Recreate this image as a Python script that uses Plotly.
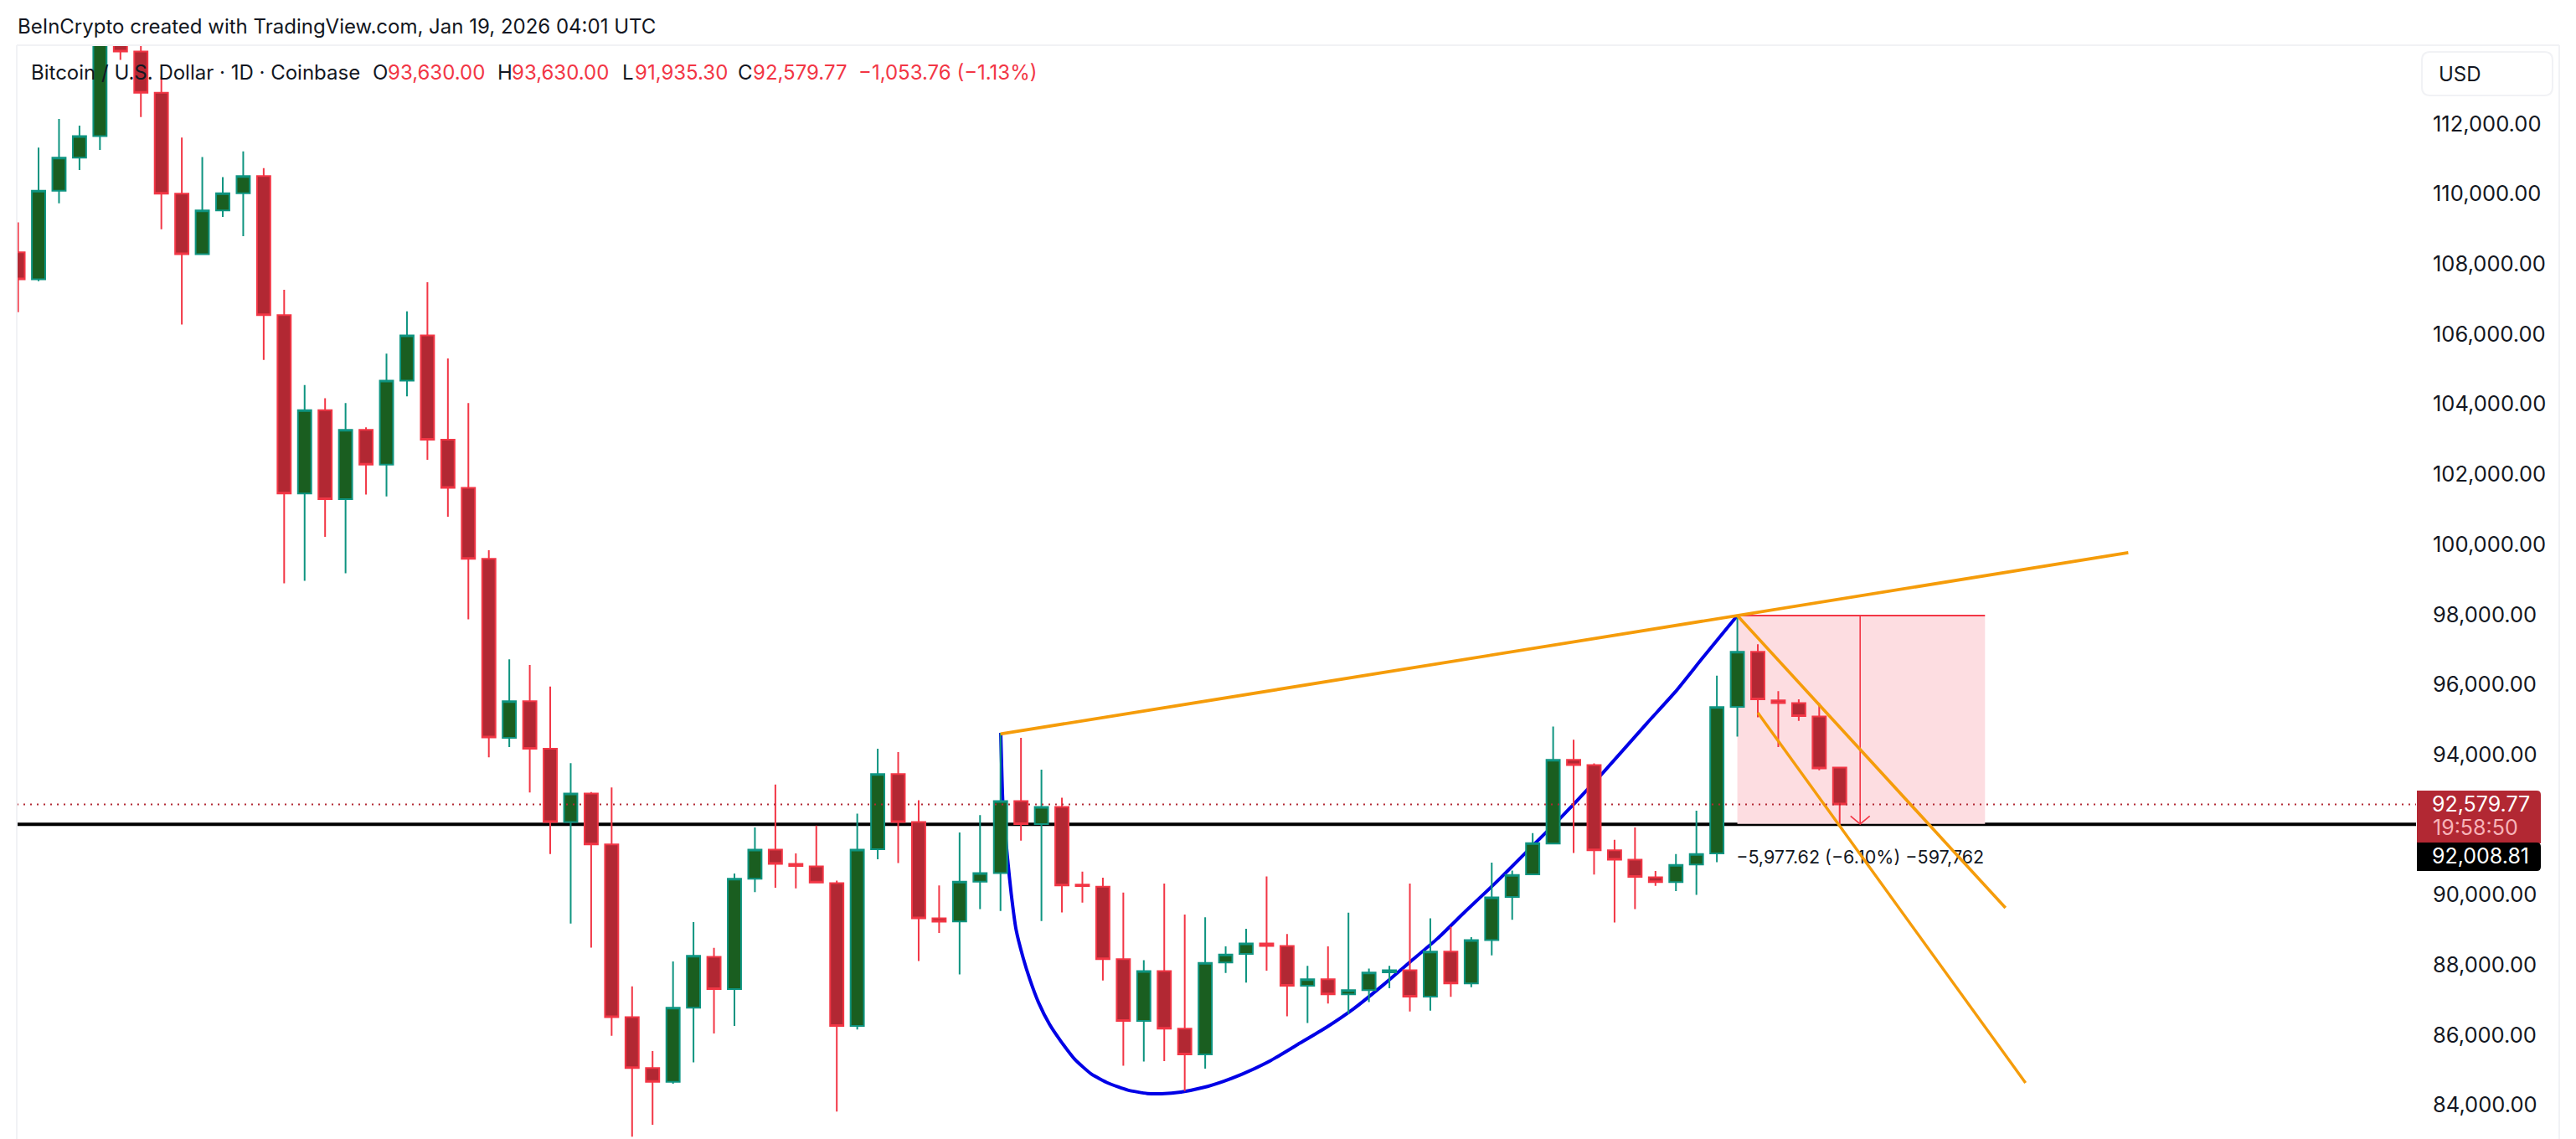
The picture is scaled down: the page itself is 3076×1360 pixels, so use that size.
import plotly.graph_objects as go

W, H = 3076, 1360
PLOT_L, PLOT_R, PLOT_T = 20, 2885, 54

# daily candles
opens = [108330, 107562, 110090, 111029, 111647, 114500, 114058, 112885, 110004, 108277,
         109524, 110015, 110506, 106538, 101450, 103828, 101290, 103263, 102271, 104671,
         105962, 102986, 101609, 99583, 94479, 95524, 94169, 92079, 92889, 91439,
         86511, 85060, 84665, 86777, 88228, 87311, 90457, 91289, 90884, 90809,
         90329, 86255, 91300, 93444, 92079, 89327, 89241, 90372, 90617, 92676,
         92015, 92506, 90290, 90233, 88164, 86404, 87822, 86180, 85444, 88068,
         88313, 88612, 88537, 87407, 87588, 87161, 87279, 87790, 87844, 87097,
         88377, 87471, 88708, 89935, 90585, 91460, 93849, 93700, 91268, 90999,
         90500, 90361, 90863, 91183, 95364, 96932, 95545, 95471, 95087, 93630]
highs = [109183, 111317, 112138, 111946, 115300, 114600, 114700, 113343, 111604, 111050,
         110474, 111210, 110730, 107263, 104543, 104170, 104031, 103337, 105439, 106644,
         107476, 105300, 104031, 99828, 96719, 96559, 95940, 93753, 92932, 93060,
         87385, 85540, 88100, 89220, 88484, 90607, 91919, 93145, 91183, 91972,
         90404, 92313, 94170, 94074, 92697, 90265, 91780, 92271, 94622, 94479,
         93572, 92772, 90660, 90489, 90063, 88132, 90319, 89433, 89359, 88527,
         89028, 90521, 88879, 87972, 88527, 89487, 87897, 87972, 90319, 89327,
         89092, 88793, 90916, 90692, 91759, 94799, 94425, 93750, 91567, 91919,
         90681, 91161, 92399, 96250, 97967, 97146, 95812, 95578, 95471, 93630]
lows = [106623, 107508, 109727, 110676, 111253, 113823, 112191, 108991, 106271, 108255,
        109343, 108788, 105258, 98884, 98959, 100212, 99172, 101418, 101364, 104223,
        102410, 100788, 97860, 93924, 94212, 92921, 91161, 89177, 88495, 85977,
        83100, 83438, 84612, 85220, 86041, 86255, 90073, 90201, 90180, 90351,
        83812, 86159, 91012, 90905, 88111, 88911, 87727, 89593, 89540, 91546,
        89252, 89497, 89775, 87556, 85124, 85241, 85252, 84399, 85038, 87769,
        87492, 87833, 86532, 86340, 86895, 86596, 86937, 87332, 86671, 86692,
        87087, 87364, 88271, 89284, 90585, 91460, 91193, 90575, 89209, 89593,
        90255, 90105, 89998, 90927, 94511, 95066, 94212, 94959, 93551, 91935.30]
closes = [107562, 110090, 111029, 111647, 114900, 114058, 112885, 110004, 108277, 109524,
          110015, 110506, 106538, 101450, 103828, 101290, 103263, 102271, 104671, 105962,
          102986, 101609, 99583, 94489, 95524, 94169, 92079, 92889, 91439, 86511,
          85060, 84665, 86777, 88260, 87311, 90457, 91289, 90884, 90820, 90351,
          86255, 91289, 93444, 92079, 89327, 89231, 90372, 90617, 92676, 92015,
          92506, 90265, 90250, 88164, 86404, 87822, 86180, 85444, 88057, 88292,
          88612, 88537, 87407, 87588, 87161, 87279, 87780, 87844, 87097, 88377,
          87471, 88708, 89924, 90564, 91471, 93849, 93700, 91268, 90999, 90511,
          90361, 90852, 91161, 95354, 96932, 95578, 95471, 95098, 93604, 92579.77]
days = list(range(len(opens)))

# drawings
cup_x = [48.01, 48.05, 48.11, 48.35, 48.52, 48.76, 49.10, 49.44, 49.85, 50.40, 50.95,
         51.63, 52.45, 53.26, 54.22, 55.17, 55.86, 56.81, 57.90, 58.90, 59.80, 61.17, 62.53,
         63.90, 65.26, 66.62, 67.99, 69.35, 70.71, 72.08, 72.77, 74.13, 75.36, 76.04,
         77.41, 79.59, 80.95, 82.32, 84]
cup_y = [94622, 93785, 92670, 91000, 90042, 89006, 88210, 87573, 86935, 86298, 85820,
         85303, 84880, 84626, 84427, 84331, 84323, 84370, 84500, 84680, 84880, 85260, 85733,
         86211, 86752, 87390, 88075, 88752, 89524, 90281, 90679, 91475, 92192, 92606,
         93466, 94900, 95776, 96772, 97967]
rim_x, rim_y = [48, 103.1], [94586, 99760]
flag_top_x, flag_top_y = [84, 97.1], [97967, 89625]
flag_low_x, flag_low_y = [85, 98.08], [95194, 84633]
measure_x, measure_top, measure_bottom = [84, 96.1], 97967, 92020
arrow_x = 90
wing_x = [89.53, 90, 90.47]
wing_y = [92249, 92020, 92249]
measure_text = "−5,977.62 (−6.10%) −597,762"
measure_label = (90, 91012)

level = 92008.81
last_close = 92579.77
countdown = "19:58:50"
price_ticks = list(range(84000, 114000, 2000))

RED = "#f23645"
DARK_RED = "#b22833"
TEAL = "#0e9480"
DARK_GREEN = "#1a5e20"
ORANGE = "#f59c0a"
BLUE = "#0000e6"
INK = "#131722"
EDGE = "#f1f2f5"
FONT = "Inter"

plot_w = PLOT_R - PLOT_L
plot_h = H - PLOT_T


def px(x):
    return (x - PLOT_L) / plot_w


def py(y):
    return (H - y) / plot_h


def rounded(x0, x1, y0, y1, rl, rr, rb=None):
    # path in paper coordinates, corners given in pixels
    rb = rr if rb is None else rb
    pts = [f"M {px(x0 + rl)} {py(y0)}", f"L {px(x1 - rr)} {py(y0)}", f"Q {px(x1)} {py(y0)} {px(x1)} {py(y0 + rr)}",
           f"L {px(x1)} {py(y1 - rb)}", f"Q {px(x1)} {py(y1)} {px(x1 - rb)} {py(y1)}", f"L {px(x0 + rl)} {py(y1)}",
           f"Q {px(x0)} {py(y1)} {px(x0)} {py(y1 - rl)}", f"L {px(x0)} {py(y0 + rl)}", f"Q {px(x0)} {py(y0)} {px(x0 + rl)} {py(y0)}", "Z"]
    return " ".join(pts)


fig = go.Figure()

fig.add_trace(go.Scatter(x=cup_x, y=cup_y, mode="lines", line=dict(color=BLUE, width=4, shape="spline", smoothing=0.5),
                         hoverinfo="skip", zorder=0))

fig.add_trace(go.Candlestick(
    x=days, open=opens, high=highs, low=lows, close=closes,
    whiskerwidth=0,
    increasing=dict(line=dict(color=TEAL, width=2), fillcolor=DARK_GREEN),
    decreasing=dict(line=dict(color=RED, width=2), fillcolor=DARK_RED),
    zorder=1,
))

# measure arrow
fig.add_trace(go.Scatter(x=[arrow_x, arrow_x], y=[measure_top, measure_bottom], mode="lines",
                         line=dict(color=RED, width=1.6), hoverinfo="skip", zorder=2))
fig.add_trace(go.Scatter(x=wing_x, y=wing_y, mode="lines", line=dict(color=RED, width=1.6), hoverinfo="skip", zorder=2))
fig.add_trace(go.Scatter(x=measure_x, y=[measure_top, measure_top], mode="lines",
                         line=dict(color=RED, width=2), hoverinfo="skip", zorder=2))
fig.add_trace(go.Scatter(x=[measure_label[0]], y=[measure_label[1]], mode="text", text=[measure_text],
                         textfont=dict(family=FONT, size=21.5, color=INK), textposition="middle center",
                         hoverinfo="skip", zorder=2))

for xs, ys, w in [(rim_x, rim_y, 3.8), (flag_top_x, flag_top_y, 3.6), (flag_low_x, flag_low_y, 3.4)]:
    fig.add_trace(go.Scatter(x=xs, y=ys, mode="lines", line=dict(color=ORANGE, width=w), hoverinfo="skip", zorder=3))

shapes = [
    dict(type="rect", layer="below", x0=measure_x[0], x1=measure_x[1], y0=measure_bottom, y1=measure_top,
         fillcolor="#fddde1", line=dict(width=0)),
    dict(type="line", layer="below", xref="paper", x0=0, x1=1, y0=level, y1=level, line=dict(color="#000000", width=4)),
    dict(type="line", layer="above", xref="paper", x0=0, x1=1, y0=last_close, y1=last_close,
         line=dict(color=DARK_RED, width=2, dash="2px,6px")),
    # frame
    dict(type="line", xref="paper", yref="paper", x0=px(PLOT_L), x1=px(3056), y0=1, y1=1, line=dict(color=EDGE, width=2)),
    dict(type="line", xref="paper", yref="paper", x0=px(PLOT_L), x1=px(PLOT_L), y0=0, y1=1, line=dict(color=EDGE, width=2)),
    dict(type="line", xref="paper", yref="paper", x0=px(3056), x1=px(3056), y0=0, y1=1, line=dict(color=EDGE, width=2)),
    # USD button
    dict(type="path", xref="paper", yref="paper", path=rounded(2892, 3048, 62, 114, 10, 10),
         line=dict(color=EDGE, width=2), fillcolor="#ffffff"),
    # price tags
    dict(type="path", xref="paper", yref="paper", path=rounded(2886, 3034, 944, 1007, 0, 5, 0),
         fillcolor=DARK_RED, line=dict(width=0)),
    dict(type="path", xref="paper", yref="paper", path=rounded(2886, 3034, 1006, 1040, 0, 5),
         fillcolor="#000000", line=dict(width=0)),
]


def label(x, y, text, color=INK, size=24):
    return dict(xref="paper", yref="paper", x=px(x), y=py(y), text=text, showarrow=False, xanchor="left", yanchor="middle",
                xshift=-1, font=dict(family=FONT, size=size, color=color))


annotations = [
    label(20, 31, "BeInCrypto created with TradingView.com, Jan 19, 2026 04:01 UTC"),
    label(36, 86, "Bitcoin / U.S. Dollar · 1D · Coinbase"),
    label(444, 86, "O"), label(462, 86, "93,630.00", RED),
    label(593, 86, "H"), label(610, 86, "93,630.00", RED),
    label(742, 86, "L"), label(757, 86, "91,935.30", RED),
    label(880, 86, "C"), label(898, 86, f"{last_close:,.2f}", RED),
    label(1024, 86, "−1,053.76 (−1.13%)", RED),
    label(2911, 88, "USD"),
    label(2903, 960, f"{last_close:,.2f}", "#ffffff", 25),
    label(2904, 988, countdown, "#f7b3b8", 25),
    label(2903, 1022, f"{level:,.2f}", "#ffffff", 25),
]

fig.update_layout(
    width=W, height=H,
    margin=dict(l=PLOT_L, r=W - PLOT_R, t=PLOT_T, b=0),
    paper_bgcolor="#ffffff", plot_bgcolor="#ffffff",
    showlegend=False,
    boxgap=0.35,
    boxgroupgap=0,
    shapes=shapes,
    annotations=annotations,
    xaxis=dict(visible=False, range=[-0.065, 117.16], rangeslider=dict(visible=False)),
    yaxis=dict(side="right", range=[83032, 114239], tickvals=price_ticks, tickformat=",.2f",
               showgrid=False, zeroline=False, showline=False, ticks="", ticklabelstandoff=19,
               tickfont=dict(family=FONT, size=25.5, color=INK)),
)

fig.write_html("out.html", config={"displayModeBar": False},
               post_script="document.body.style.margin = '0'; document.documentElement.style.overflow = 'hidden';")
